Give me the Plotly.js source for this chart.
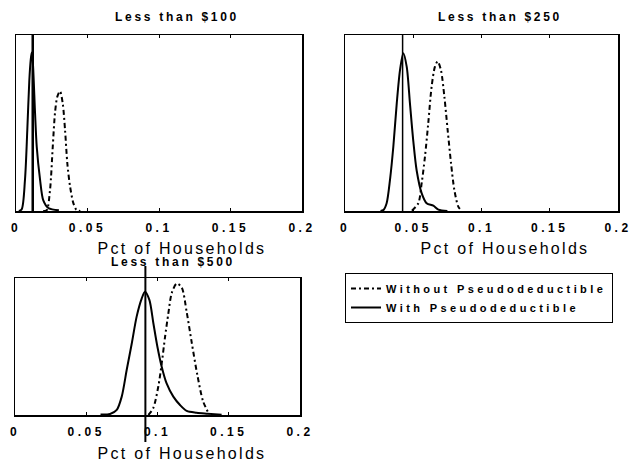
<!DOCTYPE html>
<html>
<head>
<meta charset="utf-8">
<script src="https://cdn.plot.ly/plotly-3.0.1.min.js"></script>
<style>
  html, body { margin: 0; padding: 0; background: #fff; }
  #chart { width: 634px; height: 465px; }
  .xaxislayer-above text, .xtick text, .x2tick text, .x3tick text { letter-spacing: 3.5px !important; }
  .legendtext { letter-spacing: 3.4px; }
  .annotation[data-index="0"] text,
  .annotation[data-index="1"] text,
  .annotation[data-index="2"] text { letter-spacing: 2.7px; }
  .annotation[data-index="3"] text,
  .annotation[data-index="4"] text,
  .annotation[data-index="5"] text { letter-spacing: 2.3px; }
</style>
</head>
<body>
<div id="chart"></div>
<script>
// ---- data ----
const panelTitles = ['Less than $100', 'Less than $250', 'Less than $500'];
const axisTitle = 'Pct of Households';
const seriesNames = ['Without Pseudodeductible', 'With Pseudodeductible'];
const xTickVals = [0, 0.05, 0.1, 0.15, 0.2];
const xTickText = ['0', '0.05', '0.1', '0.15', '0.2'];
const refLines = [0.0117, 0.0422, 0.0915];

// Less than $100
const p100WithoutX = [0.019, 0.0215, 0.0238, 0.0257, 0.0273, 0.0289, 0.0308, 0.0327, 0.0343, 0.0359, 0.0378, 0.0401, 0.0424, 0.045];
const p100WithoutY = [0, 0.005, 0.12, 0.365, 0.56, 0.65, 0.68, 0.61, 0.46, 0.27, 0.14, 0.045, 0.005, 0];
const p100WithX = [0.002, 0.004, 0.0063, 0.0079, 0.0093, 0.0103, 0.011, 0.0118, 0.0133, 0.0145, 0.0168, 0.0191, 0.0226, 0.03];
const p100WithY = [0, 0.01, 0.18, 0.46, 0.74, 0.86, 0.90, 0.84, 0.56, 0.365, 0.18, 0.06, 0.017, 0.004];

// Less than $250
const p250WithoutX = [0.049, 0.0537, 0.0562, 0.0586, 0.061, 0.0635, 0.0659, 0.0679, 0.0703, 0.0728, 0.0752, 0.0777, 0.0801, 0.083, 0.0855];
const p250WithoutY = [0.002, 0.044, 0.16, 0.31, 0.50, 0.71, 0.82, 0.85, 0.80, 0.65, 0.46, 0.27, 0.12, 0.025, 0];
const p250WithX = [0.026, 0.0281, 0.0305, 0.033, 0.0354, 0.0379, 0.0403, 0.0427, 0.0452, 0.0476, 0.05, 0.0525, 0.0562, 0.0598, 0.0647, 0.0684, 0.075];
const p250WithY = [0, 0.005, 0.044, 0.18, 0.365, 0.61, 0.80, 0.896, 0.82, 0.61, 0.40, 0.23, 0.10, 0.044, 0.03, 0.008, 0];

// Less than $500
const p500WithoutX = [0.0936, 0.097, 0.1006, 0.103, 0.1053, 0.1076, 0.11, 0.1135, 0.117, 0.1205, 0.124, 0.128, 0.132, 0.136];
const p500WithoutY = [0, 0.05, 0.21, 0.38, 0.57, 0.74, 0.89, 0.96, 0.93, 0.75, 0.53, 0.29, 0.10, 0.01];
const p500WithX = [0.06, 0.0667, 0.0714, 0.0749, 0.0784, 0.0819, 0.0854, 0.0889, 0.0912, 0.0943, 0.0971, 0.0999, 0.1029, 0.1064, 0.1111, 0.1158, 0.1205, 0.1275, 0.135, 0.145];
const p500WithY = [0.003, 0.007, 0.037, 0.134, 0.33, 0.52, 0.72, 0.85, 0.90, 0.84, 0.67, 0.50, 0.354, 0.23, 0.134, 0.073, 0.03, 0.017, 0.01, 0.002];

// ---- styling ----
const FONT = 'Liberation Sans, Arial, Helvetica, sans-serif';
const dashDot = '5px,3px,2px,3px';
const W = 634, H = 465;
const px = v => v / W;
const py = v => (H - v) / H;

const panels = [
  {xa: 'x',  ya: 'y',  withoutX: p100WithoutX, withoutY: p100WithoutY, withX: p100WithX, withY: p100WithY},
  {xa: 'x2', ya: 'y2', withoutX: p250WithoutX, withoutY: p250WithoutY, withX: p250WithX, withY: p250WithY},
  {xa: 'x3', ya: 'y3', withoutX: p500WithoutX, withoutY: p500WithoutY, withX: p500WithX, withY: p500WithY}
];

const traces = [];
panels.forEach((p, i) => {
  traces.push({
    type: 'scatter', mode: 'lines', x: p.withoutX, y: p.withoutY,
    xaxis: p.xa, yaxis: p.ya, name: seriesNames[0], legendgroup: 'without',
    showlegend: i === 0, hoverinfo: 'skip',
    line: {color: '#000', width: 2, dash: dashDot, shape: 'spline', smoothing: 0.8}
  });
  traces.push({
    type: 'scatter', mode: 'lines', x: p.withX, y: p.withY,
    xaxis: p.xa, yaxis: p.ya, name: seriesNames[1], legendgroup: 'with',
    showlegend: i === 0, hoverinfo: 'skip',
    line: {color: '#000', width: 2, shape: 'spline', smoothing: 0.8}
  });
});

function xAxis(domain, anchor) {
  return {
    domain: domain, anchor: anchor, range: [0, 0.2],
    tickvals: xTickVals, ticktext: xTickText,
    ticks: 'inside', ticklen: 3, tickwidth: 1, tickcolor: '#000',
    ticklabelstandoff: 5,
    showline: true, linecolor: '#000', linewidth: 1.5, mirror: 'ticks',
    showgrid: false, zeroline: false, fixedrange: true,
    tickfont: {family: FONT, size: 12, color: '#000', weight: 'bold'}
  };
}
function yAxis(domain, anchor) {
  return {
    domain: domain, anchor: anchor, range: [0, 1],
    showticklabels: false, ticks: '',
    showline: true, linecolor: '#000', linewidth: 1.5, mirror: true,
    showgrid: false, zeroline: false, fixedrange: true
  };
}

const topY = [py(211), py(35)];
const layout = {
  width: W, height: H,
  margin: {l: 0, r: 0, t: 0, b: 0},
  paper_bgcolor: '#fff', plot_bgcolor: '#fff',
  xaxis:  xAxis([px(16), px(302)], 'y'),
  yaxis:  yAxis(topY, 'x'),
  xaxis2: xAxis([px(345), px(618)], 'y2'),
  yaxis2: yAxis(topY, 'x2'),
  xaxis3: xAxis([px(15), px(300)], 'y3'),
  yaxis3: yAxis([py(415), py(278)], 'x3'),
  showlegend: true,
  legend: {
    x: px(345), y: py(273), xanchor: 'left', yanchor: 'top',
    bordercolor: '#000', borderwidth: 1, bgcolor: '#fff',
    font: {family: FONT, size: 11, color: '#000', weight: 'bold'},
    traceorder: 'normal', tracegroupgap: 0
  },
  shapes: [
    {type: 'line', xref: 'x',  yref: 'paper', x0: refLines[0], x1: refLines[0], y0: py(211), y1: py(35),  line: {color: '#000', width: 2.5}},
    {type: 'line', xref: 'x2', yref: 'paper', x0: refLines[1], x1: refLines[1], y0: py(211), y1: py(35),  line: {color: '#000', width: 1.5}},
    {type: 'line', xref: 'x3', yref: 'paper', x0: refLines[2], x1: refLines[2], y0: py(442), y1: py(266), line: {color: '#000', width: 2}}
  ],
  annotations: [
    {text: panelTitles[0], x: px(177), y: py(17),  xref: 'paper', yref: 'paper', showarrow: false, xanchor: 'center', yanchor: 'middle', font: {family: FONT, size: 12, color: '#000', weight: 'bold'}},
    {text: panelTitles[1], x: px(500), y: py(17),  xref: 'paper', yref: 'paper', showarrow: false, xanchor: 'center', yanchor: 'middle', font: {family: FONT, size: 12, color: '#000', weight: 'bold'}},
    {text: panelTitles[2], x: px(173), y: py(262), xref: 'paper', yref: 'paper', showarrow: false, xanchor: 'center', yanchor: 'middle', font: {family: FONT, size: 12, color: '#000', weight: 'bold'}},
    {text: axisTitle, x: px(182), y: py(248), xref: 'paper', yref: 'paper', showarrow: false, xanchor: 'center', yanchor: 'middle', font: {family: FONT, size: 16, color: '#000'}},
    {text: axisTitle, x: px(505), y: py(248), xref: 'paper', yref: 'paper', showarrow: false, xanchor: 'center', yanchor: 'middle', font: {family: FONT, size: 16, color: '#000'}},
    {text: axisTitle, x: px(182), y: py(453), xref: 'paper', yref: 'paper', showarrow: false, xanchor: 'center', yanchor: 'middle', font: {family: FONT, size: 16, color: '#000'}}
  ]
};

Plotly.newPlot('chart', traces, layout, {staticPlot: true, displayModeBar: false});
</script>
</body>
</html>
